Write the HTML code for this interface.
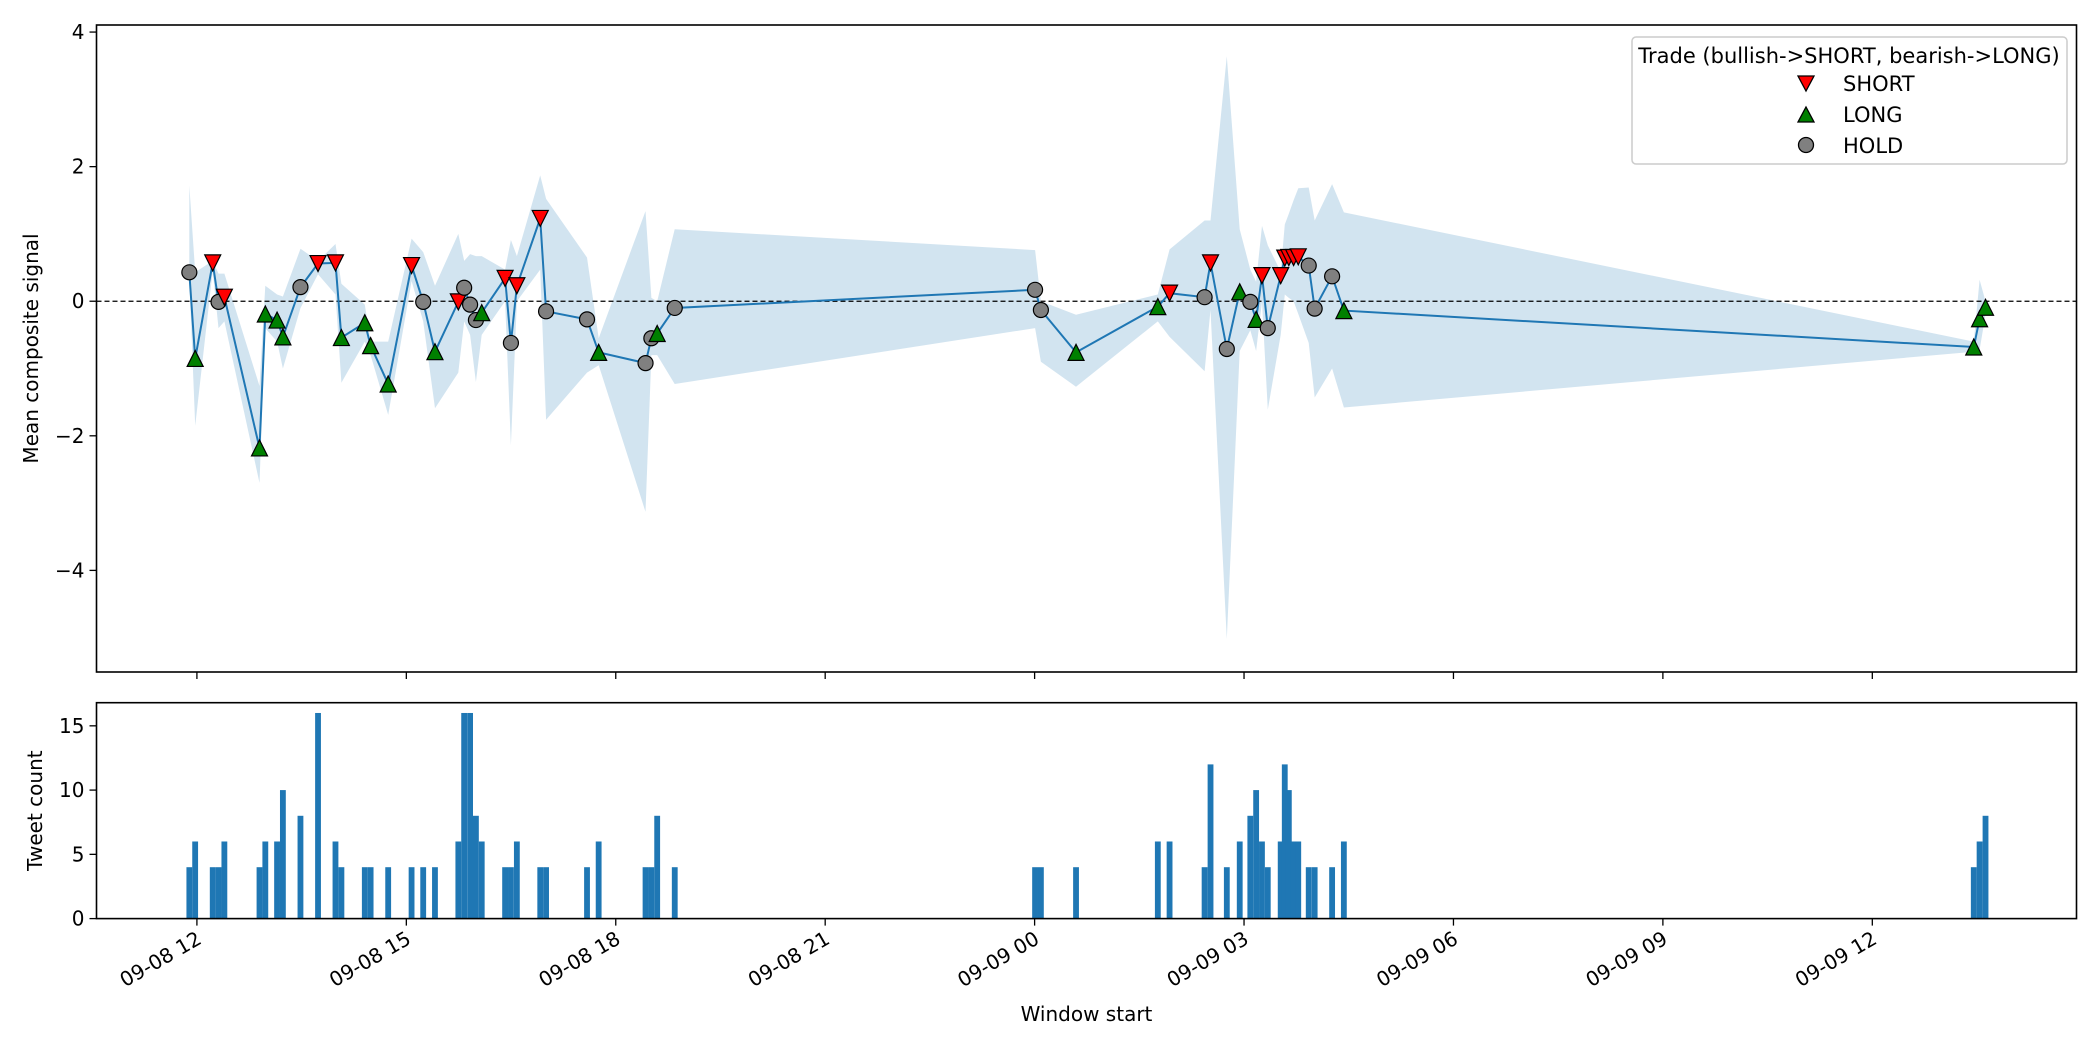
<!DOCTYPE html>
<html><head><meta charset="utf-8">
<style>
html,body{margin:0;padding:0;background:#fff;}
svg{display:block;font-family:"DejaVu Sans","Liberation Sans",sans-serif;}
</style></head>
<body>
<svg id="chart" width="2100" height="1050" viewBox="0 0 2100 1050" xmlns="http://www.w3.org/2000/svg">
  <rect x="0" y="0" width="2100" height="1050" fill="#fff"/>
  <g id="topPanel"></g>
  <g id="botPanel"></g>
  <g id="legend">
    <rect x="1632" y="37" width="435" height="127" rx="4" fill="#fff" fill-opacity="0.8" stroke="#ccc" stroke-width="1.5"/>
    <text x="1849" y="63" font-size="21" text-anchor="middle" fill="#000">Trade (bullish-&gt;SHORT, bearish-&gt;LONG)</text>
    <g>
      <path d="M1798,76 L1814,76 L1806,91 Z" fill="#ff0000" stroke="#000" stroke-width="1.3"/>
      <text x="1843" y="91" font-size="21">SHORT</text>
    </g>
    <g>
      <path d="M1798,122 L1814,122 L1806,107 Z" fill="#008000" stroke="#000" stroke-width="1.3"/>
      <text x="1843" y="122" font-size="21">LONG</text>
    </g>
    <g>
      <circle cx="1806" cy="145" r="7.5" fill="#808080" stroke="#000" stroke-width="1.3"/>
      <text x="1843" y="153" font-size="21">HOLD</text>
    </g>
  </g>
</svg>
<script>
// minutes from 09-08 12:00 (window centres)
const times = [-6.5,-1.5,13.6,18.6,23.6,53.8,58.8,68.9,73.9,89.0,104.1,119.1,124.2,144.3,149.3,164.4,184.5,194.5,204.6,224.7,229.7,234.8,239.8,244.8,264.9,269.9,275.0,295.1,300.1,335.3,345.3,385.6,390.6,395.6,410.7,
 720.4,725.4,755.6,
 825.9,836.0,866.1,871.2,885.2,896.3,905.4,910.4,915.4,920.4,931.5,935.0,938.5,942.6,946.6,955.6,960.7,975.7,985.8,
 1527.2,1532.2,1537.3];
const means = [0.43,-0.85,0.57,-0.01,0.06,-2.18,-0.19,-0.28,-0.53,0.21,0.56,0.57,-0.54,-0.32,-0.66,-1.23,0.53,-0.01,-0.75,-0.01,0.20,-0.05,-0.28,-0.17,0.34,-0.62,0.23,1.23,-0.15,-0.27,-0.76,-0.92,-0.55,-0.48,-0.10,
 0.17,-0.13,-0.76,
 -0.08,0.12,0.06,0.57,-0.71,0.14,-0.01,-0.27,0.38,-0.40,0.38,0.64,0.65,0.65,0.66,0.53,-0.11,0.37,-0.14,
 -0.68,-0.26,-0.09];
const lows = [0.35,-1.85,0.45,-0.4,-0.3,-2.7,-0.4,-0.6,-1.0,-0.1,0.4,0.1,-1.21,-0.6,-0.8,-1.69,0.3,-0.3,-1.59,-1.06,-0.3,-0.5,-1.2,-0.5,0.0,-2.14,0.0,0.47,-1.76,-1.06,-0.95,-3.13,-0.8,-0.8,-1.23,
 -0.4,-0.9,-1.27,
 -0.3,-0.53,-1.04,-0.13,-5.02,-0.74,-0.43,-0.74,-0.01,-1.61,-0.5,0.1,0.05,0.0,-0.19,-0.62,-1.43,-1.0,-1.58,
 -0.75,-0.72,-0.2];
const highs = [1.72,0.43,0.6,0.41,0.41,-1.26,0.23,0.1,0.07,0.78,0.6,0.85,0.26,-0.05,-0.6,-0.6,0.93,0.73,0.23,1.0,0.6,0.7,0.67,0.67,0.47,0.91,0.67,1.87,1.52,0.65,-0.55,1.34,0.05,0.0,1.07,
 0.76,0.0,-0.2,
 0.1,0.77,1.2,1.2,3.64,1.07,0.47,0.29,1.12,0.83,0.44,1.14,1.3,1.5,1.68,1.69,1.2,1.74,1.32,
 -0.6,0.32,0.0];
const actions = ["H","L","S","H","S","L","L","L","L","H","S","S","L","L","L","L","S","H","L","S","H","H","H","L","S","H","S","S","H","H","L","H","H","L","H",
 "H","H","L",
 "L","S","H","S","H","L","H","L","S","H","S","S","S","S","S","H","H","H","L",
 "L","L","L"];
const counts = [4,6,4,4,6,4,6,6,10,8,16,6,4,4,4,4,4,4,4,6,16,16,8,6,4,4,6,4,4,4,6,4,4,8,4,
 4,4,4,
 6,6,4,12,4,6,8,10,6,4,6,12,10,6,6,4,4,4,6,
 4,6,8];
const xTickVals = [0,180,360,540,720,900,1080,1260,1440];
const xTickLabels = ["09-08 12","09-08 15","09-08 18","09-08 21","09-09 00","09-09 03","09-09 06","09-09 09","09-09 12"];
const yTickVals = [4,2,0,-2,-4];
const yTickLabels = ["4","2","0","\u22122","\u22124"];
const cTickVals = [0,5,10,15];
const cTickLabels = ["0","5","10","15"];

const NS="http://www.w3.org/2000/svg";
const L=96.5,R=2076.5,T1=25,B1=672,T2=702.7,B2=918.6;
const xMin=-86.3,xMax=1615.5,yMin=-5.51,yMax=4.105,cMax=16.8;
const xS=m=>L+(m-xMin)/(xMax-xMin)*(R-L);
const yS=v=>B1-(v-yMin)/(yMax-yMin)*(B1-T1);
const cS=c=>B2-c/cMax*(B2-T2);
function mk(tag,attrs,parent){const e=document.createElementNS(NS,tag);for(const k in attrs)e.setAttribute(k,attrs[k]);parent.appendChild(e);return e;}
const topG=document.getElementById('topPanel'),botG=document.getElementById('botPanel');

// band
let d="";
times.forEach((t,i)=>{d+=(i?"L":"M")+xS(t).toFixed(1)+","+yS(highs[i]).toFixed(1);});
for(let i=times.length-1;i>=0;i--)d+="L"+xS(times[i]).toFixed(1)+","+yS(lows[i]).toFixed(1);
const band=mk('path',{d:d+"Z",fill:"#1f77b4","fill-opacity":"0.2"},topG);


// zero line
const z=mk('line',{x1:L,x2:R,y1:yS(0),y2:yS(0),stroke:"#000","stroke-width":"1.3","stroke-dasharray":"5,3"},topG);


// mean line
const ln=mk('polyline',{points:times.map((t,i)=>xS(t).toFixed(1)+","+yS(means[i]).toFixed(1)).join(" "),fill:"none",stroke:"#1f77b4","stroke-width":"2"},topG);


// markers
times.forEach((t,i)=>{
  const x=xS(t),y=yS(means[i]),s=8;let e;
  if(actions[i]==="H"){e=mk('circle',{cx:x,cy:y,r:7.5,fill:"#808080",stroke:"#000","stroke-width":"1.2"},topG);}
  else if(actions[i]==="S"){e=mk('path',{d:`M${x-s},${y-s} L${x+s},${y-s} L${x},${y+s}Z`,fill:"#ff0000",stroke:"#000","stroke-width":"1.2"},topG);}
  else {e=mk('path',{d:`M${x-s},${y+s} L${x+s},${y+s} L${x},${y-s}Z`,fill:"#008000",stroke:"#000","stroke-width":"1.2"},topG);}
  
  
});
// bars
const bw=(R-L)/(xMax-xMin)*5;
times.forEach((t,i)=>{
  const b=mk('rect',{x:(xS(t)-bw/2).toFixed(2),y:cS(counts[i]).toFixed(2),width:bw.toFixed(2),height:(B2-cS(counts[i])).toFixed(2),fill:"#1f77b4"},botG);
  
  
});
// frames
[[T1,B1,topG],[T2,B2,botG]].forEach(([t,b,g])=>{
  const f=mk('rect',{x:L,y:t,width:R-L,height:b-t,fill:"none",stroke:"#000","stroke-width":"1.6"},g);
  
  
});
// x ticks
xTickVals.forEach((m,i)=>{
  const x=xS(m);
  const t1=mk('line',{x1:x,x2:x,y1:B1,y2:B1+7,stroke:"#000","stroke-width":"1.3"},topG);
  
  
  const t2=mk('line',{x1:x,x2:x,y1:B2,y2:B2+7,stroke:"#000","stroke-width":"1.3"},botG);
  
  
  const lb=mk('text',{x:x+6,y:B2+24,"font-size":"20","text-anchor":"end",transform:`rotate(-30 ${x+6} ${B2+24})`},botG);
  lb.textContent=xTickLabels[i];
  
  
});
// y ticks
yTickVals.forEach((v,i)=>{
  const y=yS(v);
  const tk=mk('line',{x1:L-7,x2:L,y1:y,y2:y,stroke:"#000","stroke-width":"1.3"},topG);
  
  
  const lb=mk('text',{x:L-12,y:y+7,"font-size":"20","text-anchor":"end"},topG);
  lb.textContent=yTickLabels[i];
  
  
});
cTickVals.forEach((v,i)=>{
  const y=cS(v);
  const tk=mk('line',{x1:L-7,x2:L,y1:y,y2:y,stroke:"#000","stroke-width":"1.3"},botG);
  
  
  const lb=mk('text',{x:L-12,y:y+7,"font-size":"20","text-anchor":"end"},botG);
  lb.textContent=cTickLabels[i];
  
  
});
// axis titles
const yt=mk('text',{x:38,y:(T1+B1)/2,"font-size":"20","text-anchor":"middle",transform:`rotate(-90 38 ${(T1+B1)/2})`},topG);
yt.textContent="Mean composite signal";


const ct=mk('text',{x:42,y:(T2+B2)/2,"font-size":"20","text-anchor":"middle",transform:`rotate(-90 42 ${(T2+B2)/2})`},botG);
ct.textContent="Tweet count";


const xt=mk('text',{x:(L+R)/2,y:1021,"font-size":"20","text-anchor":"middle"},botG);
xt.textContent="Window start";


</script>
</body></html>
